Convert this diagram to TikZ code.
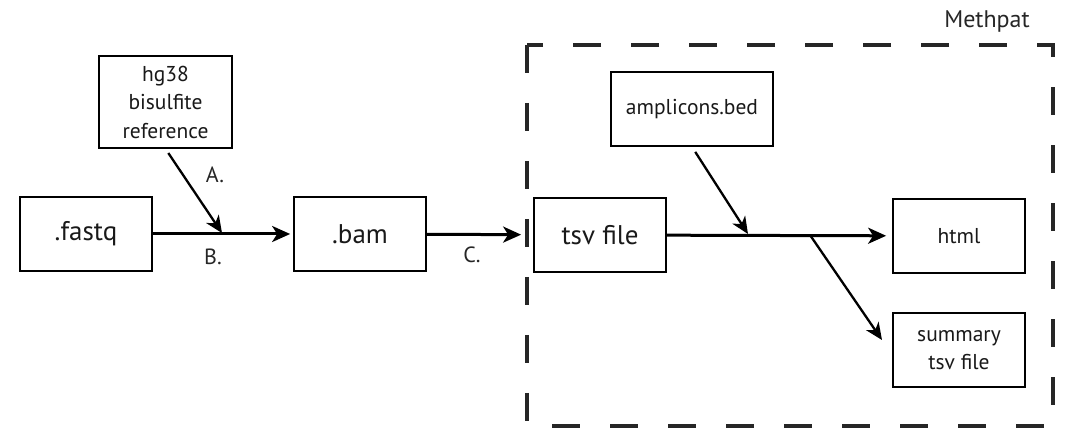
\documentclass[tikz,border=0pt]{standalone}
\usepackage{fontspec}
\setmainfont{PT Sans}
\usetikzlibrary{arrows.meta,
                positioning}

\tikzset{
  fichier/.style={draw,line width=1.7pt,inset sep=0pt,align=center,
                  minimum width=132pt,minimum height=74pt,text=black!90},
  grand/.style={font=\fontsize{27}{32}\selectfont},
  petit/.style={font=\fontsize{21.5}{28.5}\selectfont},
  etiquette/.style={font=\fontsize{22}{26}\selectfont,text=black!85},
  fleche/.style={line width=3pt,-{Stealth[length=18pt,width=16pt,inset=5pt]}},
  biais/.style={line width=2.3pt,-{Stealth[length=17pt,width=15pt,inset=5pt]}},
  inset sep/.style={inner sep=#1}
}

\begin{document}
\begin{tikzpicture}[x=1pt,y=-1pt]
   \useasboundingbox (0,0) rectangle (1080,446);
   \draw [line width=3.6pt,dash pattern=on 28pt off 30pt,black!85] (527,45) rectangle (1053,426);
   \node [etiquette,font=\fontsize{24}{28}\selectfont] (methpat) at (987,22) {Methpat};

   \node [fichier,grand] (fastq) at (86,234) {.fastq};
   \node [fichier,petit,minimum width=133pt,minimum height=92pt] (hg38) at (165.5,102) {hg38\\bisulfite\\reference};
   \node [fichier,grand] (bam) at (360,234) {.bam};
   \node [fichier,grand] (tsv) at (600,235) {tsv file};
   \node [fichier,petit,minimum width=162pt] (amplicons) at (692,109) {amplicons.bed};
   \node [fichier,petit] (html) at (959,236) {html};
   \node [fichier,petit] (summary) at (959,350) {summary\\tsv file};

   \coordinate (jA) at (222,233);
   \coordinate (jB) at (748,234);
   \coordinate (jC) at (810,235);
   \coordinate (tC) at (882,340);

   \draw [fleche,shorten >=3pt] (fastq) -- (bam);
   \draw [biais,shorten <=5pt] (hg38.south) -- (jA);
   \draw [fleche,shorten >=12pt] (bam) -- (tsv);
   \draw [fleche,shorten >=6pt] (tsv) -- (html);
   \draw [biais,shorten <=6pt] (amplicons.south) -- (jB);
   \draw [biais] (jC) -- (tC);

   \node [etiquette] (labA) at (215,175) {A.};
   \node [etiquette] (labB) at (213,257) {B.};
   \node [etiquette] (labC) at (472,255) {C.};
\end{tikzpicture}
\end{document}
